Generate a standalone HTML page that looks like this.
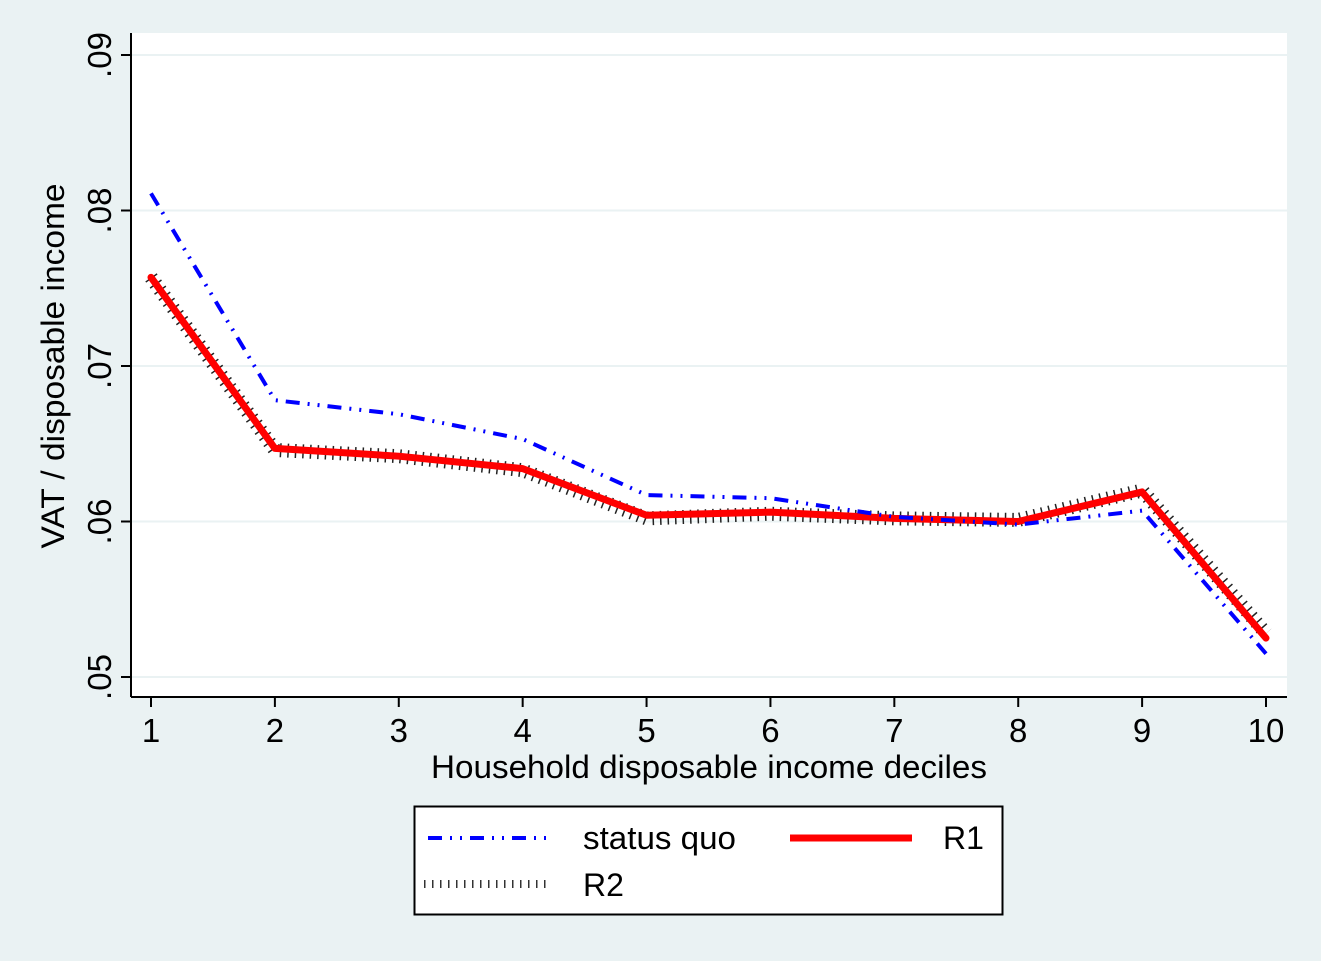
<!DOCTYPE html>
<html><head><meta charset="utf-8"><style>
body{margin:0;background:#eaf2f3;}
svg{display:block;font-family:"Liberation Sans",Arial,sans-serif;}
</style></head><body>
<svg id="c" width="1321" height="961">
<rect x="0" y="0" width="1321" height="961" fill="#eaf2f3"/>
<rect x="131" y="33" width="1156" height="664" fill="#fff"/>
<g id="grid"></g><g id="axes"></g><g id="series"></g>
<text x="709" y="778" font-size="32" text-anchor="middle" textLength="556" lengthAdjust="spacingAndGlyphs">Household disposable income deciles</text>
<text transform="translate(64,366) rotate(-90)" font-size="32" text-anchor="middle" textLength="365" lengthAdjust="spacingAndGlyphs">VAT / disposable income</text>
<g>
<rect x="414.5" y="806.5" width="588" height="108" fill="#fff" stroke="#000" stroke-width="2"/>
<line x1="428" y1="838" x2="552" y2="838" stroke="#0000ff" stroke-width="4" stroke-dasharray="14,8,2,8,2,8"/>
<text x="583" y="849" font-size="32" textLength="153" lengthAdjust="spacingAndGlyphs">status quo</text>
<line x1="790" y1="838" x2="912" y2="838" stroke="#ff0000" stroke-width="7"/>
<text x="943" y="849" font-size="32">R1</text>
<line x1="424" y1="884" x2="552" y2="884" stroke="#333" stroke-width="8" stroke-dasharray="1.5,6.5"/>
<text x="583" y="896" font-size="32">R2</text>
</g>
</svg>
<script>
const categories=[1,2,3,4,5,6,7,8,9,10];
const statusQuo=[0.0811,0.0678,0.0669,0.0653,0.0617,0.0615,0.0603,0.0598,0.0607,0.0515];
const r1=[0.0757,0.0647,0.0642,0.0634,0.0604,0.0606,0.0602,0.0600,0.0619,0.0525];
const r2=[0.0757,0.0646,0.0642,0.0633,0.0602,0.0605,0.0602,0.0601,0.0620,0.0528];
const yTicks=[0.05,0.06,0.07,0.08,0.09];
const yTickLabels=[".05",".06",".07",".08",".09"];
const NS="http://www.w3.org/2000/svg";
const xs=v=>151+(v-1)*(1266-151)/9;
const ys=v=>677-(v-0.05)*15550;
function mk(t,a,p){const e=document.createElementNS(NS,t);for(const k in a)e.setAttribute(k,a[k]);p.appendChild(e);return e;}
const grid=document.getElementById('grid'),axes=document.getElementById('axes'),ser=document.getElementById('series');
yTicks.forEach((t,i)=>{
 const y=ys(t);
 const g=mk('line',{x1:131,x2:1287,y1:y,y2:y,stroke:'#eaf2f3','stroke-width':2},grid);
 
 
 mk('line',{x1:121,x2:131,y1:y,y2:y,stroke:'#000','stroke-width':2},axes);
 const tx=mk('text',{transform:`translate(111,${y}) rotate(-90)`,'font-size':33,'text-anchor':'middle'},axes);
 tx.textContent=yTickLabels[i];
 
 
});
categories.forEach(c=>{
 const x=xs(c);
 mk('line',{x1:x,x2:x,y1:697,y2:707,stroke:'#000','stroke-width':2},axes);
 const tx=mk('text',{x:x,y:742,'font-size':33,'text-anchor':'middle'},axes);
 tx.textContent=c;
 
 
});
mk('line',{x1:131,x2:131,y1:33,y2:697,stroke:'#000','stroke-width':2},axes);
mk('line',{x1:131,x2:1287,y1:697,y2:697,stroke:'#000','stroke-width':2},axes);
function pts(arr){return arr.map((v,i)=>xs(categories[i])+','+ys(v)).join(' ');}
const p2=mk('polyline',{points:pts(r2),fill:'none',stroke:'#222','stroke-width':14,'stroke-dasharray':'1.5,6'},ser);


const p1=mk('polyline',{points:pts(r1),fill:'none',stroke:'#ff0000','stroke-width':7,'stroke-linejoin':'round','stroke-linecap':'round'},ser);


const p0=mk('polyline',{points:pts(statusQuo),fill:'none',stroke:'#0000ff','stroke-width':4,'stroke-dasharray':'14,8,2,8,2,8'},ser);


</script>
</body></html>
